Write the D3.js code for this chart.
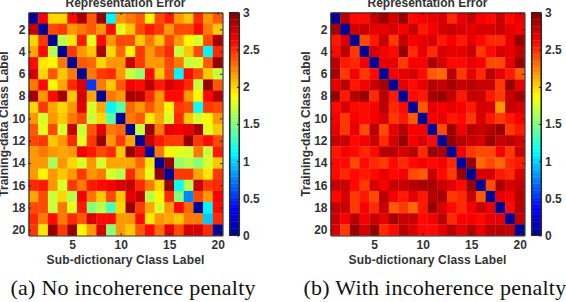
<!DOCTYPE html>
<html>
<head>
<meta charset="utf-8">
<script src="https://cdn.jsdelivr.net/npm/d3@7"></script>
<style>
  html, body { margin: 0; padding: 0; background: #fff; }
  svg { display: block; }
  .axis-text { font-family: "Liberation Sans", sans-serif; font-weight: bold; font-size: 12px; fill: #333; }
  .axis path, .axis line { stroke: #2b2b2b; stroke-width: 1.1; }
  .caption { font-family: "Liberation Serif", serif; font-size: 22px; letter-spacing: 0.25px; fill: #111; }
</style>
</head>
<body>
<svg id="chart" width="566" height="302"></svg>
<script>
const titleText = "Representation Error";
const xLabelText = "Sub-dictionary Class Label";
const yLabelText = "Training-data Class Label";
const captionA = "(a) No incoherence penalty";
const captionB = "(b) With incoherence penalty";

const xTicks = [5, 10, 15, 20];
const yTicks = [2, 4, 6, 8, 10, 12, 14, 16, 18, 20];
const colorbarTicks = [0, 0.5, 1, 1.5, 2, 2.5, 3];

const errorNoPenalty = [
  [0, 2.65, 2.0, 2.0, 2.6, 2.9, 2.35, 2.95, 1.12, 2.17, 2.25, 2.35, 1.88, 2.4, 2.55, 2.17, 2.05, 2.5, 2.2, 2.35],
  [2.8, 0, 2.4, 2.45, 2.2, 2.25, 2.35, 2.17, 2.6, 1.8, 2.05, 2.4, 2.55, 2.45, 2.2, 2.4, 2.4, 2.6, 2.25, 2.05],
  [2.0, 2.45, 0, 1.65, 1.93, 2.55, 1.8, 2.6, 2.17, 2.4, 2.4, 2.05, 2.25, 2.05, 2.4, 2.17, 1.88, 1.75, 2.4, 2.9],
  [2.12, 2.6, 1.65, 0, 2.45, 2.2, 2.05, 2.9, 2.0, 2.3, 1.88, 2.45, 2.2, 2.35, 2.5, 1.7, 2.05, 2.4, 1.12, 2.5],
  [2.6, 1.93, 1.88, 2.25, 0, 2.35, 2.3, 2.0, 2.2, 2.2, 2.8, 2.45, 2.2, 2.17, 2.4, 2.25, 1.7, 1.75, 2.35, 2.95],
  [2.75, 2.0, 2.35, 2.05, 2.25, 0, 2.25, 2.45, 2.5, 2.2, 1.7, 1.55, 2.6, 2.05, 2.4, 1.12, 2.6, 2.4, 2.05, 1.7],
  [2.25, 2.6, 1.88, 2.12, 2.5, 2.75, 0.55, 2.25, 2.05, 2.35, 2.65, 2.6, 2.85, 2.55, 2.75, 2.65, 2.5, 1.7, 2.95, 2.35],
  [2.9, 2.2, 2.6, 2.9, 2.05, 2.75, 2.12, 0, 2.25, 2.17, 2.9, 2.85, 2.5, 2.17, 2.6, 2.6, 2.17, 1.88, 2.6, 2.85],
  [2.0, 2.45, 2.12, 2.0, 2.17, 2.7, 1.75, 2.12, 1.1, 1.4, 2.3, 2.17, 2.35, 2.2, 1.88, 2.45, 2.4, 1.15, 2.45, 2.4],
  [2.2, 1.75, 2.17, 2.05, 2.25, 2.4, 1.7, 2.0, 1.4, 0, 2.25, 2.35, 1.93, 2.12, 1.75, 2.5, 2.05, 1.75, 1.88, 2.17],
  [2.35, 1.8, 2.4, 1.75, 2.8, 1.7, 2.35, 2.7, 2.25, 2.3, 0, 1.7, 2.95, 2.25, 2.7, 2.65, 2.7, 2.9, 1.8, 2.05],
  [2.4, 2.45, 2.05, 2.2, 2.5, 1.8, 2.45, 2.95, 2.2, 2.45, 2.12, 0, 2.8, 2.55, 2.45, 2.45, 2.95, 2.45, 2.6, 2.4],
  [2.17, 2.25, 2.2, 2.12, 2.2, 2.65, 2.55, 2.4, 2.5, 2.05, 2.95, 2.7, 0, 2.25, 1.88, 1.8, 1.75, 2.25, 1.7, 2.55],
  [2.2, 2.2, 1.6, 2.17, 2.0, 1.75, 2.17, 1.75, 2.12, 2.12, 2.12, 2.3, 1.93, 0, 2.95, 1.55, 1.65, 1.5, 1.75, 2.05],
  [2.2, 1.88, 2.17, 2.05, 2.17, 2.45, 2.17, 2.25, 1.75, 1.65, 2.5, 2.17, 1.8, 2.95, 0, 2.45, 2.45, 2.12, 1.93, 2.45],
  [2.5, 2.55, 2.17, 1.75, 2.45, 2.25, 2.55, 2.6, 2.65, 2.75, 2.8, 2.5, 2.25, 2.0, 2.95, 1.15, 1.65, 2.8, 2.45, 2.5],
  [2.12, 2.4, 1.7, 2.0, 1.65, 2.65, 2.25, 2.05, 2.4, 2.05, 2.7, 2.8, 1.65, 1.88, 2.5, 1.5, 0.75, 2.4, 2.2, 2.65],
  [2.4, 2.4, 1.7, 2.25, 1.8, 2.55, 1.5, 1.65, 1.35, 2.0, 2.95, 2.45, 2.12, 1.75, 2.2, 2.6, 2.3, 0, 1.12, 2.6],
  [2.5, 2.25, 2.6, 2.25, 2.5, 2.35, 2.75, 2.6, 2.6, 2.17, 2.17, 2.6, 1.93, 2.17, 2.12, 2.05, 2.25, 2.25, 0.95, 2.5],
  [2.45, 1.93, 2.95, 2.45, 2.95, 1.88, 2.17, 2.75, 1.5, 2.17, 2.05, 2.35, 2.6, 2.3, 2.7, 2.4, 2.75, 2.75, 2.5, 0]
];

const errorWithPenalty = [
  [0, 2.85, 2.6, 2.6, 2.8, 2.95, 2.75, 2.95, 2.6, 2.65, 2.7, 2.75, 2.5, 2.7, 2.8, 2.65, 2.6, 2.8, 2.6, 2.7],
  [2.9, 0, 2.75, 2.8, 2.7, 2.7, 2.75, 2.65, 2.8, 2.55, 2.65, 2.75, 2.8, 2.75, 2.7, 2.75, 2.75, 2.8, 2.7, 2.65],
  [2.55, 2.75, 0, 2.4, 2.55, 2.8, 2.45, 2.8, 2.65, 2.7, 2.75, 2.55, 2.65, 2.55, 2.7, 2.6, 2.5, 2.5, 2.7, 2.95],
  [2.6, 2.85, 2.45, 0, 2.75, 2.65, 2.6, 2.95, 2.5, 2.7, 2.5, 2.75, 2.7, 2.7, 2.8, 2.45, 2.6, 2.75, 2.7, 2.8],
  [2.85, 2.55, 2.5, 2.65, 0, 2.7, 2.7, 2.45, 2.65, 2.65, 2.9, 2.75, 2.6, 2.6, 2.7, 2.65, 2.4, 2.4, 2.7, 2.95],
  [2.9, 2.45, 2.65, 2.45, 2.6, 0, 2.65, 2.7, 2.75, 2.6, 2.35, 2.3, 2.85, 2.45, 2.7, 2.5, 2.85, 2.7, 2.55, 2.35],
  [2.7, 2.85, 2.55, 2.65, 2.8, 2.9, 0, 2.7, 2.6, 2.7, 2.85, 2.8, 2.9, 2.8, 2.85, 2.8, 2.8, 2.45, 2.95, 2.7],
  [2.95, 2.55, 2.85, 2.95, 2.5, 2.85, 2.55, 0, 2.6, 2.55, 2.9, 2.95, 2.8, 2.55, 2.8, 2.8, 2.55, 2.45, 2.8, 2.9],
  [2.6, 2.75, 2.6, 2.6, 2.65, 2.85, 2.5, 2.6, 0, 2.35, 2.7, 2.65, 2.7, 2.65, 2.55, 2.75, 2.75, 2.2, 2.8, 2.75],
  [2.65, 2.45, 2.65, 2.6, 2.65, 2.75, 2.45, 2.55, 2.35, 0, 2.65, 2.7, 2.55, 2.6, 2.45, 2.75, 2.55, 2.45, 2.55, 2.65],
  [2.7, 2.45, 2.7, 2.4, 2.85, 2.4, 2.7, 2.85, 2.65, 2.65, 0, 2.4, 2.95, 2.65, 2.85, 2.8, 2.85, 2.95, 2.45, 2.55],
  [2.8, 2.8, 2.6, 2.65, 2.8, 2.5, 2.75, 2.95, 2.65, 2.75, 2.6, 0, 2.95, 2.85, 2.8, 2.75, 2.95, 2.8, 2.85, 2.75],
  [2.55, 2.65, 2.6, 2.5, 2.6, 2.85, 2.85, 2.75, 2.85, 2.5, 2.95, 2.9, 0, 2.65, 2.45, 2.4, 2.4, 2.65, 2.45, 2.8],
  [2.6, 2.6, 2.4, 2.6, 2.5, 2.45, 2.6, 2.5, 2.6, 2.65, 2.6, 2.65, 2.5, 0, 2.95, 2.3, 2.4, 2.3, 2.5, 2.55],
  [2.6, 2.5, 2.6, 2.55, 2.6, 2.7, 2.6, 2.65, 2.4, 2.35, 2.8, 2.6, 2.45, 2.95, 0, 2.75, 2.75, 2.55, 2.5, 2.75],
  [2.8, 2.8, 2.6, 2.45, 2.75, 2.65, 2.8, 2.8, 2.85, 2.9, 2.9, 2.8, 2.7, 2.6, 2.95, 0, 2.4, 2.9, 2.75, 2.8],
  [2.6, 2.75, 2.45, 2.55, 2.4, 2.85, 2.65, 2.55, 2.7, 2.55, 2.85, 2.9, 2.45, 2.5, 2.8, 2.35, 0, 2.7, 2.65, 2.85],
  [2.8, 2.8, 2.45, 2.65, 2.5, 2.8, 2.35, 2.45, 2.3, 2.55, 2.95, 2.75, 2.6, 2.5, 2.65, 2.8, 2.7, 0, 2.6, 2.85],
  [2.8, 2.65, 2.85, 2.65, 2.8, 2.7, 2.9, 2.8, 2.8, 2.6, 2.65, 2.85, 2.5, 2.65, 2.65, 2.6, 2.7, 2.7, 0, 2.8],
  [2.75, 2.45, 2.95, 2.75, 2.95, 2.5, 2.6, 2.85, 2.75, 2.6, 2.6, 2.7, 2.85, 2.7, 2.85, 2.7, 2.85, 2.85, 2.8, 0]
];

// matlab jet, 64 flat levels over 0..3
const levels = 64;
const vMax = 3;
const jetRamp = d3.scaleLinear()
  .domain([0, 0.125, 0.375, 0.625, 0.875, 1])
  .range(["#00008f", "#0000ff", "#00ffff", "#ffff00", "#ff0000", "#800000"])
  .interpolate(d3.interpolateRgb);
const levelOf = (v) => Math.min(levels - 1, Math.floor((v / vMax) * levels));
const jet = (v) => jetRamp((levelOf(v) + 0.5) / levels);

const svg = d3.select("#chart");

function drawPanel(left, data, caption, captionX) {
  const top = 12.5;
  const bottom = 235.5;
  const width = 194;

  const x = d3.scaleLinear().domain([0.5, 20.5]).range([left, left + width]);
  const y = d3.scaleLinear().domain([0.5, 20.5]).range([top, bottom]);

  const g = svg.append("g");

  data.forEach((row, r) => {
    g.selectAll(null)
      .data(row)
      .join("rect")
      .attr("x", (d, c) => x(c + 0.5))
      .attr("y", y(r + 0.5))
      .attr("width", (d, c) => x(c + 1.5) - x(c + 0.5) + 0.3)
      .attr("height", y(r + 1.5) - y(r + 0.5) + 0.3)
      .attr("fill", (d) => jet(d));
  });

  const addAxis = (axis, tx, ty, labels) => {
    const a = g.append("g")
      .attr("class", "axis")
      .attr("transform", `translate(${tx},${ty})`)
      .call(axis);
    a.selectAll("text").attr("class", "axis-text");
    if (!labels) a.selectAll("text").remove();
    return a;
  };

  addAxis(d3.axisBottom(x).tickValues(xTicks).tickSizeInner(-2.5).tickSizeOuter(0).tickPadding(5), 0, bottom, true);
  addAxis(d3.axisTop(x).tickValues(xTicks).tickSizeInner(-2.5).tickSizeOuter(0), 0, top, false);
  addAxis(d3.axisLeft(y).tickValues(yTicks).tickSizeInner(-2.5).tickSizeOuter(0).tickPadding(3), left, 0, true);
  addAxis(d3.axisRight(y).tickValues(yTicks).tickSizeInner(-2.5).tickSizeOuter(0), left + width, 0, false);

  g.append("text")
    .attr("class", "axis-text")
    .attr("x", left + width / 2)
    .attr("y", 7)
    .attr("text-anchor", "middle")
    .text(titleText);

  g.append("text")
    .attr("class", "axis-text")
    .attr("x", left + width / 2)
    .attr("y", 263.5)
    .attr("text-anchor", "middle")
    .style("letter-spacing", "0.15px")
    .text(xLabelText);

  g.append("text")
    .attr("class", "axis-text")
    .attr("transform", `translate(${left - 20.5},${(top + bottom) / 2}) rotate(-90)`)
    .attr("text-anchor", "middle")
    .text(yLabelText);

  g.append("text")
    .attr("class", "caption")
    .attr("x", captionX)
    .attr("y", 294.5)
    .text(caption);

  // colorbar
  const barLeft = left + width + 7;
  const barWidth = 9.5;
  const c = d3.scaleLinear().domain([0, vMax]).range([bottom, top]);

  g.selectAll(null)
    .data(d3.range(levels))
    .join("rect")
    .attr("x", barLeft)
    .attr("width", barWidth)
    .attr("y", (d) => c(((d + 1) / levels) * vMax))
    .attr("height", (bottom - top) / levels + 0.3)
    .attr("fill", (d) => jetRamp((d + 0.5) / levels));

  addAxis(d3.axisRight(c).tickValues(colorbarTicks).tickFormat(d3.format("")).tickSizeInner(-2).tickSizeOuter(0).tickPadding(4), barLeft + barWidth, 0, true);
  addAxis(d3.axisLeft(c).tickValues(colorbarTicks).tickSizeInner(0).tickSizeOuter(0), barLeft, 0, false);
  g.append("rect")
    .attr("x", barLeft).attr("y", top).attr("width", barWidth).attr("height", bottom - top)
    .attr("fill", "none").attr("stroke", "#2b2b2b").attr("stroke-width", 1.1);
}

drawPanel(28.5, errorNoPenalty, captionA, 10.5);
drawPanel(330.5, errorWithPenalty, captionB, 303.5);
</script>
</body>
</html>
